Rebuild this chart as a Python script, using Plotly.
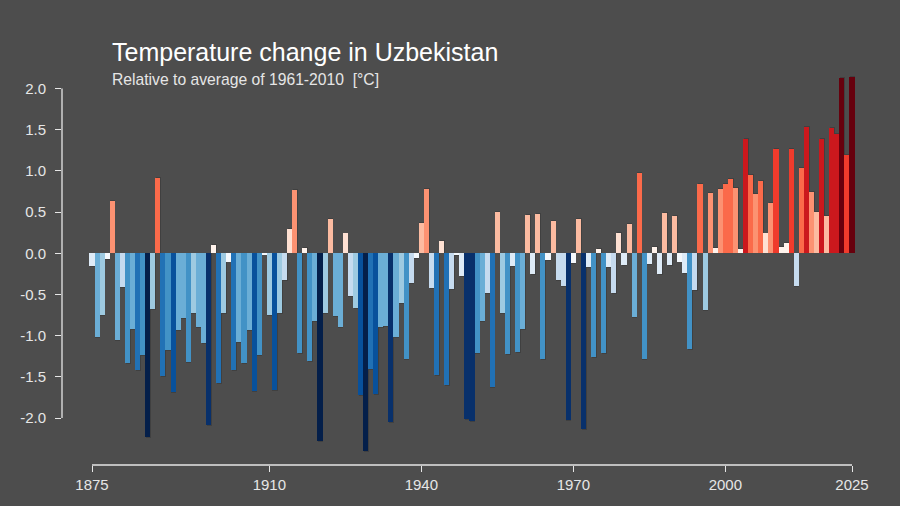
import plotly.graph_objects as go

years = list(range(1875, 2026))
anomaly = [
    -0.16, -1.02, -0.75, -0.07, 0.64, -1.05, -0.41, -1.33, -0.92, -1.42,
    -1.24, -2.23, -0.68, 0.91, -1.49, -1.18, -1.68, -0.93, -0.78, -1.32,
    -0.73, -0.89, -1.09, -2.09, 0.10, -1.57, -0.72, -0.10, -1.42, -1.08,
    -1.33, -0.93, -1.67, -1.24, -0.01, -0.75, -1.66, -0.72, -0.32, 0.30,
    0.77, -1.21, 0.06, -1.31, -0.82, -2.28, -0.72, 0.41, -0.76, -0.89,
    0.24, -0.52, -0.67, -1.72, -2.40, -1.40, -1.71, -0.90, -0.88, -2.05,
    -1.02, -0.60, -1.28, -0.36, -0.06, 0.37, 0.78, -0.42, -1.48, 0.15,
    -1.60, -0.43, -0.02, -0.28, -2.01, -2.03, -1.21, -0.82, -0.48, -1.62,
    0.50, -0.73, -1.22, -0.15, -1.20, -0.92, 0.46, -0.25, 0.48, -1.28,
    -0.08, 0.39, -0.32, -0.40, -2.02, -0.12, 0.41, -2.13, -0.17, -1.26,
    0.05, -1.21, -0.17, -0.48, 0.25, -0.14, 0.35, -0.77, 0.97, -1.28,
    -0.13, 0.08, -0.25, 0.49, -0.14, 0.45, -0.10, -0.24, -1.16, -0.44,
    0.84, -0.69, 0.73, 0.06, 0.78, 0.84, 0.90, 0.79, 0.05, 1.39,
    0.95, 0.72, 0.88, 0.24, 0.61, 1.27, 0.08, 0.12, 1.27, -0.40,
    1.03, 1.53, 0.74, 0.50, 1.39, 0.45, 1.52, 1.45, 2.13, 1.19,
    2.14,
]
x_tick_years = [1875, 1910, 1940, 1970, 2000, 2025]
y_tick_vals = [-2.0, -1.5, -1.0, -0.5, 0.0, 0.5, 1.0, 1.5, 2.0]
y_tick_text = ["-2.0", "-1.5", "-1.0", "-0.5", "0.0", "0.5", "1.0", "1.5", "2.0"]

title_text = "Temperature change in Uzbekistan"
subtitle_text = "Relative to average of 1961-2010  [°C]"

# stepped stripes colour scale
class_edges = [-2.6, -2.2, -1.95, -1.65, -1.35, -1.1, -0.75, -0.55, -0.3, -0.12, 0.0,
               0.12, 0.3, 0.55, 0.82, 1.1, 1.35, 1.7, 2.0, 2.6]
class_colors = ['#041f4a', '#08306b', '#08519c', '#2171b5', '#4292c6', '#6baed6',
                '#9ecae1', '#c6dbef', '#deebf7', '#f4f8fc',
                '#fff3ec', '#fee0d2', '#fcbba1', '#fc9272', '#fb6a4a', '#ef3b2c',
                '#cb181d', '#a50f15', '#67000d']
cmin, cmax = class_edges[0], class_edges[-1]
scale = []
for i, c in enumerate(class_colors):
    lo = (class_edges[i] - cmin) / (cmax - cmin)
    hi = (class_edges[i + 1] - cmin) / (cmax - cmin)
    scale.append([lo, c])
    scale.append([hi, c])
scale[0][0] = 0.0
scale[-1][0] = 1.0

BG = '#4d4d4d'
FG = '#e6e6e6'

# faint drop shadow under each bar (derived from the same values)
shadow_x = [yr + 0.12 for yr in years]
shadow_y = [v + (0.012 if v >= 0 else -0.012) for v in anomaly]

fig = go.Figure()
fig.add_trace(go.Bar(
    x=shadow_x, y=shadow_y,
    marker=dict(color='rgba(40,40,40,0.35)', line=dict(width=0)),
    width=1.0, hoverinfo='skip',
))
fig.add_trace(go.Bar(
    x=years, y=anomaly,
    marker=dict(color=anomaly, colorscale=scale, cmin=cmin, cmax=cmax,
                line=dict(width=0)),
    width=1.0,
    hoverinfo='x+y',
))

fig.update_layout(
    width=900, height=506,
    paper_bgcolor=BG, plot_bgcolor=BG,
    margin=dict(l=62, r=30, t=71.5, b=41),
    showlegend=False,
    barmode='overlay',
    bargap=0,
    font=dict(family='Liberation Sans, Arial, sans-serif', color=FG, size=15),
    xaxis=dict(
        range=[1869.08, 2028.55],
        tickvals=x_tick_years,
        ticks='outside', ticklen=6, tickwidth=1.3, tickcolor=FG,
        showgrid=False, zeroline=False, showline=False,
        tickfont=dict(size=15, color=FG),
    ),
    yaxis=dict(
        range=[-2.57, 2.2],
        tickvals=y_tick_vals, ticktext=y_tick_text,
        ticks='outside', ticklen=6, tickwidth=1.3, tickcolor=FG,
        showgrid=False, zeroline=False, showline=False,
        tickfont=dict(size=15, color=FG),
        ticklabelstandoff=6,
    ),
    shapes=[
        dict(type='line', xref='x', yref='paper', x0=x_tick_years[0], x1=x_tick_years[-1],
             y0=0, y1=0, line=dict(color=FG, width=1.3)),
        dict(type='line', xref='paper', yref='y', x0=0, x1=0,
             y0=y_tick_vals[0], y1=y_tick_vals[-1], line=dict(color=FG, width=1.3)),
    ],
    annotations=[
        dict(text=title_text, xref='paper', yref='paper', x=0.0594, y=1.05,
             xanchor='left', yanchor='middle', showarrow=False,
             font=dict(size=25, color='#ffffff')),
        dict(text=subtitle_text, xref='paper', yref='paper', x=0.0594, y=0.982,
             xanchor='left', yanchor='middle', showarrow=False,
             font=dict(size=15.7, color=FG)),
    ],
)

fig.write_html("out.html", config={'displayModeBar': False},
               post_script="document.body.style.margin='0';")
